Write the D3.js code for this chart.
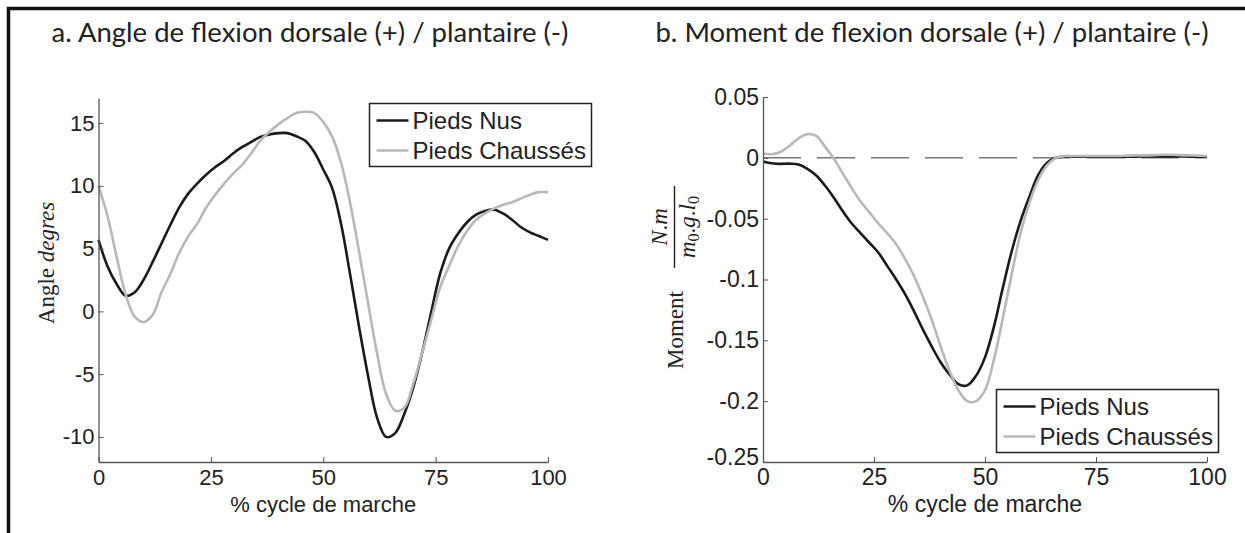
<!DOCTYPE html>
<html>
<head>
<meta charset="utf-8">
<script src="https://cdn.jsdelivr.net/npm/d3@7"></script>
<style>
  body { margin: 0; background: #fff; }
  svg { display: block; }
</style>
</head>
<body>
<div id="chart"></div>
<script>
// Data (% of gait cycle, every 2 %)
const pctCycle = [0, 2, 4, 6, 8, 10, 12, 14, 16, 18, 20, 22, 24, 26, 28, 30, 32, 34, 36, 38, 40,
  42, 44, 46, 48, 50, 52, 54, 56, 58, 60, 62, 64, 66, 68, 70, 72, 74, 76, 78, 80,
  82, 84, 86, 88, 90, 92, 94, 96, 98, 100];

// a. ankle angle (degrees)
const angleNus = [5.7, 3.6, 2.2, 1.25, 1.5, 2.5, 3.9, 5.4, 6.9, 8.3, 9.4, 10.2, 10.9, 11.5, 12.0, 12.6, 13.1, 13.5, 13.9, 14.1, 14.2,
  14.2, 13.95, 13.6, 12.7, 11.3, 9.8, 6.9, 2.9, -1.3, -5.2, -8.5, -10.0, -9.7, -8.2, -6.1, -3.3, -0.1, 3.0, 5.0, 6.2,
  7.1, 7.7, 8.0, 8.1, 7.8, 7.3, 6.7, 6.3, 6.0, 5.7];
const angleChausses = [10.0, 7.6, 4.4, 1.4, -0.4, -0.85, -0.3, 1.5, 3.0, 4.7, 6.0, 7.0, 8.3, 9.3, 10.2, 11.0, 11.7, 12.6, 13.6, 14.3, 14.9,
  15.4, 15.8, 15.9, 15.8, 15.1, 13.9, 11.8, 8.6, 4.7, 0.6, -3.4, -6.6, -7.9, -7.7, -5.8, -3.3, -0.7, 1.9, 3.6, 5.2,
  6.4, 7.3, 7.8, 8.2, 8.5, 8.7, 9.0, 9.3, 9.5, 9.5];

// b. ankle moment (N.m / m0.g.l0)
const momentNus = [-0.003, -0.0045, -0.005, -0.0048, -0.0055, -0.009, -0.0145, -0.023, -0.033, -0.044, -0.054, -0.062, -0.070, -0.078, -0.089, -0.100, -0.112, -0.126, -0.141, -0.155, -0.168,
  -0.178, -0.186, -0.187, -0.179, -0.164, -0.139, -0.107, -0.077, -0.052, -0.032, -0.014, -0.004, 0.0, 0.001, 0.001, 0.001, 0.001, 0.001, 0.001, 0.001,
  0.001, 0.001, 0.0012, 0.0012, 0.0012, 0.0012, 0.0012, 0.001, 0.001, 0.001];
const momentChausses = [0.0035, 0.003, 0.005, 0.010, 0.016, 0.0195, 0.018, 0.009, -0.001, -0.013, -0.025, -0.036, -0.045, -0.054, -0.062, -0.071, -0.083, -0.097, -0.114, -0.133, -0.155,
  -0.175, -0.191, -0.200, -0.200, -0.191, -0.166, -0.132, -0.096, -0.062, -0.037, -0.018, -0.006, 0.0, 0.0015, 0.0015, 0.0015, 0.0015, 0.0015, 0.0015, 0.0015,
  0.0018, 0.002, 0.002, 0.0022, 0.0025, 0.0025, 0.0022, 0.002, 0.0018, 0.0015];

const seriesNames = ["Pieds Nus", "Pieds Chaussés"];
const seriesColours = ["#1a1a1a", "#b8b8b8"];
const cycleTicks = [0, 25, 50, 75, 100];
const angleTicks = [15, 10, 5, 0, -5, -10];
const momentTicks = [0.05, 0, -0.05, -0.1, -0.15, -0.2, -0.25];
const titles = [
  "a. Angle de flexion dorsale (+) / plantaire (-)",
  "b. Moment de flexion dorsale (+) / plantaire (-)",
];
const xLabel = "% cycle de marche";

const width = 1245;
const height = 533;
const tickFont = "'Liberation Sans', Arial, sans-serif";
const mathFont = "'Liberation Serif', 'Times New Roman', serif";

const svg = d3.select("#chart").append("svg")
  .attr("width", width)
  .attr("height", height);

// Outer frame (top + left only)
svg.append("path")
  .attr("d", "M8.5,533 V8.5 H1245")
  .attr("fill", "none")
  .attr("stroke", "#111")
  .attr("stroke-width", 3.5);

// Draws one panel, returns its scales
const drawPanel = (opt) => {
  const x = d3.scaleLinear().domain([0, 100]).range([opt.left, opt.right]);
  const y = d3.scaleLinear().domain(opt.yDomain).range([opt.bottom, opt.top]);
  const g = svg.append("g");

  // Title
  g.append("text")
    .attr("x", opt.titleX)
    .attr("y", 42)
    .attr("text-anchor", "middle")
    .style("font-family", "Lato, 'Open Sans', sans-serif")
    .style("font-size", "27.5px")
    .attr("fill", "#222")
    .text(opt.title);

  // Zero reference line
  if (opt.zeroLine) {
    g.append("line")
      .attr("x1", x(0)).attr("x2", x(100))
      .attr("y1", y(0)).attr("y2", y(0))
      .attr("stroke", "#333")
      .attr("stroke-width", 1)
      .attr("stroke-dasharray", "38,16");
  }

  // Curves
  const line = d3.line()
    .x((d) => x(d[0]))
    .y((d) => y(d[1]))
    .curve(d3.curveCatmullRom);
  opt.series.forEach((values, i) => {
    g.append("path")
      .datum(pctCycle.map((p, j) => [p, values[j]]))
      .attr("d", line)
      .attr("fill", "none")
      .attr("stroke", seriesColours[i])
      .attr("stroke-width", 2.6)
      .attr("stroke-linejoin", "round");
  });

  // Axes, ticks pointing inwards
  const xAxis = d3.axisBottom(x)
    .tickValues(cycleTicks)
    .tickFormat((d) => String(d))
    .tickSizeInner(-5)
    .tickSizeOuter(0)
    .tickPadding(7);
  const yAxis = d3.axisLeft(y)
    .tickValues(opt.yTicks)
    .tickFormat((d) => String(d))
    .tickSizeInner(-5)
    .tickSizeOuter(0)
    .tickPadding(4);

  const gx = g.append("g")
    .attr("transform", `translate(0,${opt.bottom})`)
    .call(xAxis);
  const gy = g.append("g")
    .attr("transform", `translate(${opt.left},0)`)
    .call(yAxis);
  [gx, gy].forEach((ax) => {
    ax.select(".domain").attr("stroke", "#555").attr("stroke-width", 1.3);
    ax.selectAll(".tick line").attr("stroke", "#555").attr("stroke-width", 1);
    ax.selectAll(".tick text")
      .style("font-family", tickFont)
      .style("font-size", opt.fontSize + "px")
      .attr("fill", "#222");
  });
  // lowest y label sits a little above its tick, as in the original
  gy.selectAll(".tick text").filter((d) => d === opt.yDomain[0]).attr("y", -5);

  // x label
  g.append("text")
    .attr("x", (opt.left + opt.right) / 2)
    .attr("y", 512)
    .attr("text-anchor", "middle")
    .style("font-family", tickFont)
    .style("font-size", opt.fontSize + "px")
    .attr("fill", "#222")
    .text(xLabel);

  // Legend
  const lg = g.append("g").attr("transform", `translate(${opt.legendX},${opt.legendY})`);
  lg.append("rect")
    .attr("width", 222).attr("height", 63)
    .attr("fill", "#fff")
    .attr("stroke", "#222")
    .attr("stroke-width", 1.5);
  seriesNames.forEach((name, i) => {
    const cy = 17 + i * 30;
    lg.append("line")
      .attr("x1", 7).attr("x2", 39)
      .attr("y1", cy).attr("y2", cy)
      .attr("stroke", seriesColours[i])
      .attr("stroke-width", 2.6);
    lg.append("text")
      .attr("x", 43).attr("y", cy)
      .attr("dy", "0.36em")
      .style("font-family", tickFont)
      .style("font-size", "24px")
      .attr("fill", "#222")
      .text(name);
  });

  return { x, y, g };
};

drawPanel({
  left: 98.5, right: 548, top: 98, bottom: 462,
  yDomain: [-12, 17], yTicks: angleTicks,
  series: [angleNus, angleChausses],
  title: titles[0], titleX: 310,
  legendX: 369.5, legendY: 103.5,
  zeroLine: false, fontSize: 22,
});

drawPanel({
  left: 763, right: 1207, top: 97, bottom: 462,
  yDomain: [-0.25, 0.05], yTicks: momentTicks,
  series: [momentNus, momentChausses],
  title: titles[1], titleX: 932,
  legendX: 996.5, legendY: 389.5,
  zeroLine: true, fontSize: 23,
});

// y label, panel a: "Angle degres"
const yLabA = svg.append("text")
  .attr("transform", "translate(54,263) rotate(-90)")
  .attr("text-anchor", "middle")
  .style("font-family", mathFont)
  .style("font-size", "23px")
  .attr("fill", "#222");
yLabA.append("tspan").text("Angle ");
yLabA.append("tspan").style("font-style", "italic").text("degres");

// y label, panel b: "Moment" + fraction N.m / m0.g.l0
const yLabB = svg.append("g")
  .attr("transform", "translate(683,0) rotate(-90)")
  .style("font-family", mathFont)
  .style("font-size", "23px")
  .attr("fill", "#222");
yLabB.append("text")
  .attr("x", -369).attr("y", 0)
  .text("Moment");
yLabB.append("line")
  .attr("x1", -268).attr("x2", -186)
  .attr("y1", -8.5).attr("y2", -8.5)
  .attr("stroke", "#222")
  .attr("stroke-width", 1.4);
const num = yLabB.append("text")
  .attr("x", -227).attr("y", -16)
  .attr("text-anchor", "middle");
num.append("tspan").style("font-style", "italic").text("N");
num.append("tspan").text(".");
num.append("tspan").style("font-style", "italic").text("m");
const den = yLabB.append("text")
  .attr("x", -227).attr("y", 12)
  .attr("text-anchor", "middle");
den.append("tspan").style("font-style", "italic").text("m");
den.append("tspan").attr("dy", 4).style("font-size", "16px").text("0");
den.append("tspan").attr("dy", -4).text(".");
den.append("tspan").style("font-style", "italic").text("g");
den.append("tspan").text(".");
den.append("tspan").style("font-style", "italic").text("l");
den.append("tspan").attr("dy", 4).style("font-size", "16px").text("0");
</script>
</body>
</html>
